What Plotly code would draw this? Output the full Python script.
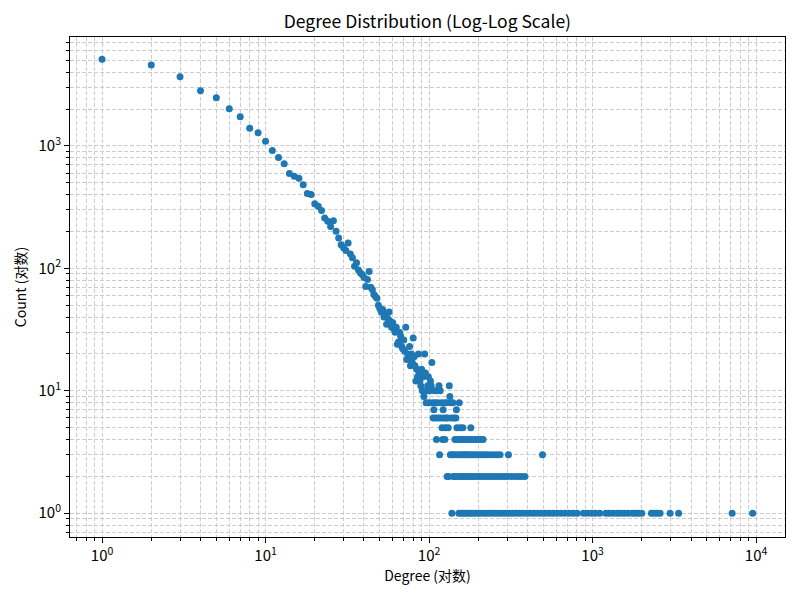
import plotly.graph_objects as go

# ---- data: degree -> number of nodes with that degree ----
head_degree = [1, 2, 3, 4, 5, 6, 7, 8, 9, 10, 11, 12, 13, 14, 15, 16, 17, 18, 19, 20,
               21, 22, 23, 24, 25, 26, 27, 28, 29, 30, 31, 32, 33, 34, 35, 36, 37, 38, 39, 40,
               41, 42, 43, 44, 45, 46, 47, 48, 49, 50, 51, 52, 53, 54, 55, 56, 57, 58, 59, 60,
               61, 62, 63, 64, 65, 66, 67, 68, 69, 70, 71, 72, 73, 74, 75, 76, 77, 78, 79, 80,
               81, 82, 83, 84, 85, 86, 87, 88, 89, 90, 91, 92, 93, 94]
head_count = [5090, 4580, 3670, 2820, 2470, 2010, 1730, 1390, 1280, 1090, 916, 804, 714, 595, 565, 544, 481, 408, 401, 336,
              321, 297, 258, 242, 220, 245, 201, 177, 156, 147, 140, 161, 131, 122, 104, 111, 97, 92, 89, 84,
              71, 81, 94, 70, 67, 61, 59, 57, 50, 47, 44, 46, 40, 43, 35, 39, 44, 37, 33, 36,
              32, 30, 33, 24, 25, 30, 28, 23, 22, 26, 21, 33, 18, 20, 18, 23, 16, 20, 17, 27,
              19, 16, 12, 15, 13, 20, 14, 12, 11, 15, 10, 13, 9, 20]

mid_degree = [95, 96, 97, 98, 99, 100, 101, 102, 103, 104, 105, 106, 107, 108, 109, 110,
              111, 112, 113, 114, 115, 116, 117, 118, 119, 120, 121, 122, 123, 124, 125, 126,
              127, 128, 129, 130, 131, 132, 133, 134, 135, 136, 137, 138, 139, 140, 141, 142,
              143, 144, 145, 146, 147, 148, 149, 150, 151, 152, 153, 154, 155, 156, 157, 158,
              159, 160, 161, 162, 163]
mid_count = [14, 8, 10, 11, 13, 8, 10, 12, 11, 17, 8, 6, 7, 10, 8, 6,
             4, 10, 8, 6, 11, 3, 10, 6, 8, 5, 4, 7, 6, 8, 4, 5,
             6, 8, 2, 6, 5, 2, 11, 9, 3, 8, 6, 1, 3, 8, 2, 6,
             3, 4, 2, 6, 7, 5, 3, 4, 2, 1, 8, 3, 5, 4, 2, 1,
             3, 4, 5, 2, 1]

tail_degree = [164, 165, 167, 168, 169, 170, 172, 173, 175, 176, 178, 179, 180, 181, 183, 185,
               186, 188, 190, 192, 194, 196, 197, 199, 202, 204, 205, 207, 211, 213, 214, 216,
               220, 222, 225, 230, 232, 236, 240, 243, 248, 251, 255, 260, 262, 267, 272, 275,
               280, 288, 293, 302, 306, 308, 318, 323, 335, 340, 352, 357, 368, 375, 386, 395,
               416, 438, 462, 487, 494, 514, 543, 573, 606, 641, 678, 718, 760, 805,
               880, 930, 985, 1040, 1105, 1206, 1260, 1330, 1410, 1480, 1560, 1650,
               1750, 1830, 1910, 2000, 2290, 2380, 2480, 2590, 2980, 3360, 7140, 9530]
tail_count = [3, 4, 2, 3, 1, 4, 2, 3, 1, 4, 3, 2, 5, 1, 4, 3,
              2, 1, 4, 3, 2, 1, 4, 3, 2, 1, 4, 3, 2, 1, 4, 3,
              2, 1, 3, 2, 1, 3, 2, 1, 3, 2, 1, 3, 2, 1, 3, 2,
              1, 2, 1, 2, 3, 1, 2, 1, 2, 1, 2, 1, 2, 1, 2, 1,
              1, 1, 1, 1, 3, 1, 1, 1, 1, 1, 1, 1, 1, 1,
              1, 1, 1, 1, 1, 1, 1, 1, 1, 1, 1, 1,
              1, 1, 1, 1, 1, 1, 1, 1, 1, 1, 1, 1]

major_vals_x = [1, 10, 100, 1000, 10000]
major_text_x = ["10<sup>0</sup>", "10<sup>1</sup>", "10<sup>2</sup>", "10<sup>3</sup>", "10<sup>4</sup>"]
major_vals_y = [1, 10, 100, 1000]
major_text_y = ["10<sup>0</sup>", "10<sup>1</sup>", "10<sup>2</sup>", "10<sup>3</sup>"]

degree = head_degree + mid_degree + tail_degree
count = head_count + mid_count + tail_count

minor_vals = [m * 10 ** e for e in range(-1, 5) for m in range(2, 10)]

FONT = "Noto Sans CJK SC, Microsoft YaHei, DejaVu Sans, sans-serif"
GRID = "#cdcdcd"

fig = go.Figure()
fig.add_trace(go.Scatter(
    x=degree, y=count, mode="markers",
    marker=dict(color="#1f77b4", size=7, line=dict(width=0)),
    showlegend=False,
))

axis_common = dict(
    type="log", automargin=False,
    showline=True, linecolor="black", linewidth=1, mirror=True,
    ticks="outside", ticklen=5, tickwidth=1, tickcolor="black",
    showgrid=True, gridcolor=GRID, gridwidth=0.6, griddash="4px,2px",
    zeroline=False,
    tickfont=dict(family=FONT, size=15, color="black"),
    tickmode="array",
    minor=dict(tickmode="array", tickvals=minor_vals, ticks="outside", ticklen=3,
               tickwidth=0.8, tickcolor="black", showgrid=True, gridcolor=GRID,
               gridwidth=0.5, griddash="4px,2px"),
)

fig.update_xaxes(**axis_common, range=[-0.196, 4.177],
                 tickvals=major_vals_x, ticktext=major_text_x,
                 title=dict(text="Degree (对数)", font=dict(family=FONT, size=14, color="black"), standoff=6))
fig.update_yaxes(**axis_common, range=[-0.194, 3.889],
                 tickvals=major_vals_y, ticktext=major_text_y,
                 title=dict(text="Count (对数)", font=dict(family=FONT, size=14, color="black"), standoff=8))

fig.update_layout(
    width=784, height=584,
    margin=dict(l=62, r=7, t=29, b=55),
    paper_bgcolor="white", plot_bgcolor="white",
    title=dict(text="Degree Distribution (Log-Log Scale)", x=0.535, xanchor="center",
               y=0.976, yanchor="middle", yref="container",
               font=dict(family=FONT, size=17.5, color="black")),
)

fig.write_html("out.html")
